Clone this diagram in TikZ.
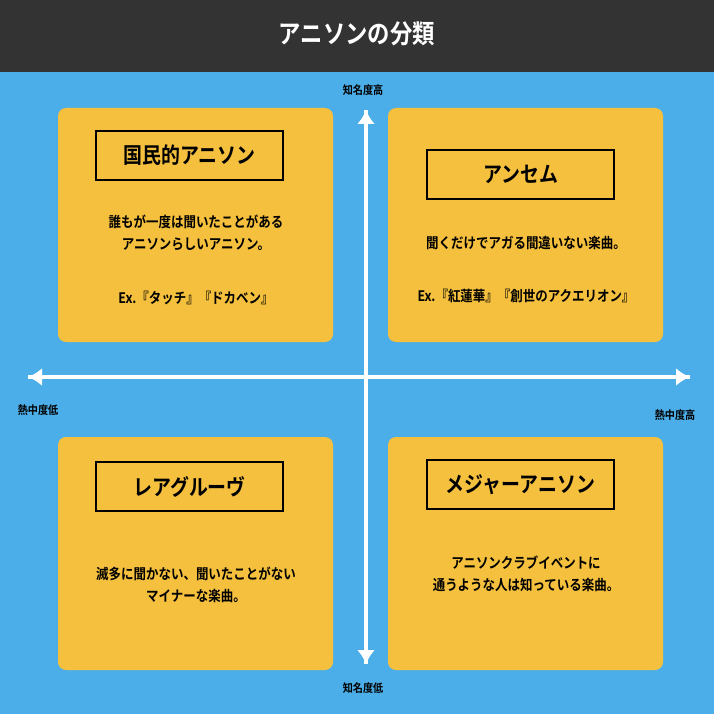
\documentclass[tikz,border=0pt]{standalone}
\usepackage{fontspec}
\setmainfont{Noto Sans CJK JP Bold}
\begin{document}
\begin{tikzpicture}[x=1pt,y=-1pt,
  quad/.style={fill=qy,rounded corners=8pt},
  ttl/.style={draw=black,line width=2.5pt,minimum width=187pt,minimum height=49pt,inner sep=0pt},
  tt/.style={font=\fontsize{22}{24}\selectfont,xscale=0.86,transform shape},
  body/.style={font=\fontsize{14.5}{22}\selectfont,align=center,xscale=0.86,transform shape},
  axl/.style={font=\fontsize{11.5}{13}\selectfont,text=black,xscale=0.88,transform shape},
  ax/.style={draw=white,line width=4pt,-{Latex[length=14pt,width=18pt]}}]
\usetikzlibrary{arrows.meta}
\definecolor{qy}{HTML}{F5C03E}
\definecolor{bg}{HTML}{4BAEE8}
\definecolor{hd}{HTML}{333333}
\fill[bg] (0,0) rectangle (714,714);
\fill[hd] (0,0) rectangle (714,72);
\node[text=white,font=\fontsize{26}{28}\selectfont,xscale=0.86,transform shape] (title) at (357,34) {アニソンの分類};
\fill[quad] (58,108) rectangle (333,342);
\fill[quad] (388,108) rectangle (663,342);
\fill[quad] (58,437) rectangle (333,670);
\fill[quad] (388,437) rectangle (663,670);
\coordinate (L) at (28,377); \coordinate (R) at (690,377);
\coordinate (T) at (366,110); \coordinate (B) at (366,664);
\draw[ax] (R) -- (L);
\draw[ax] (L) -- (R);
\draw[ax] (B) -- (T);
\draw[ax] (T) -- (B);
\node[axl] (a1) at (363,90) {知名度高};
\node[axl] (a2) at (363,688) {知名度低};
\node[axl] (a3) at (38,410) {熱中度低};
\node[axl] (a4) at (675,415) {熱中度高};
\node[ttl] (t1) at (189.5,155.5) {};
\node[ttl] (t2) at (520.5,174.5) {};
\node[ttl] (t3) at (189.5,486.5) {};
\node[ttl] (t4) at (520.5,484.5) {};
\node[tt] (l1) at (t1) {国民的アニソン};
\node[tt] (l2) at (t2) {アンセム};
\node[tt] (l3) at (t3) {レアグルーヴ};
\node[tt] (l4) at (t4) {メジャーアニソン};
\node[body] (b1) at (196,233) {誰もが一度は聞いたことがある\\アニソンらしいアニソン。};
\node[body] (e1) at (196,298) {Ex.『タッチ』『ドカベン』};
\node[body] (b2) at (526,243) {聞くだけでアガる間違いない楽曲。};
\node[body] (e2) at (526,296) {Ex.『紅蓮華』『創世のアクエリオン』};
\node[body] (b3) at (196,585) {滅多に聞かない、聞いたことがない\\マイナーな楽曲。};
\node[body] (b4) at (526,574) {アニソンクラブイベントに\\通うような人は知っている楽曲。};
\end{tikzpicture}
\end{document}
